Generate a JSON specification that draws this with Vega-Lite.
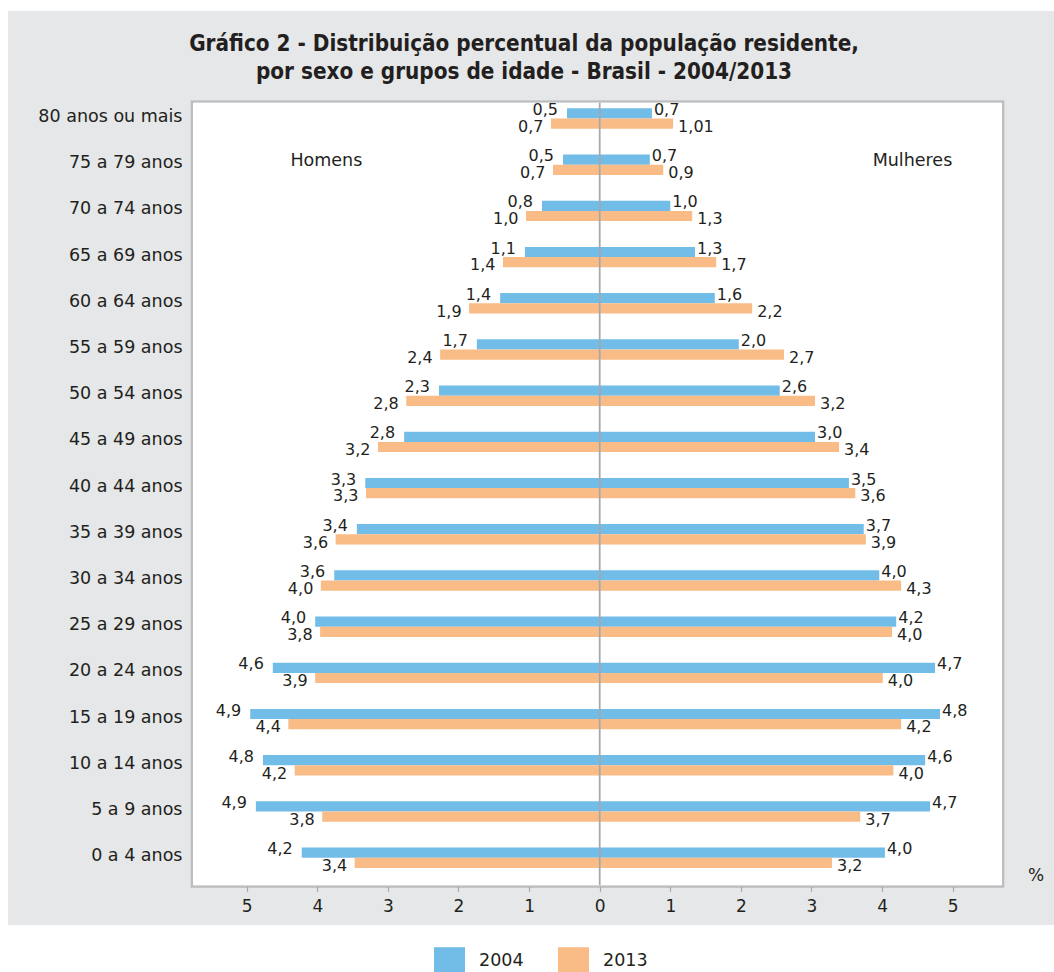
{
  "$schema": "https://vega.github.io/schema/vega-lite/v6.json",
  "width": 1046,
  "height": 914,
  "autosize": {"type": "pad"},
  "padding": {"left": 8, "top": 11, "right": 0, "bottom": 0},
  "background": "white",
  "view": {"fill": "#e6e7e8", "stroke": null},
  "title": {
    "text": ["Gráfico 2 - Distribuição percentual da população residente,", "por sexo e grupos de idade - Brasil - 2004/2013"],
    "font": "Liberation Sans Narrow, DejaVu Sans Condensed, Liberation Sans, sans-serif",
    "fontWeight": "bold",
    "fontSize": 22.3,
    "color": "#231f20",
    "anchor": "middle",
    "frame": "group",
    "offset": -72,
    "lineHeight": 28,
    "dx": -7
  },
  "datasets": {
    "pop": [
      {"idade": "80 anos ou mais", "sexo": "Homens", "ano": "2004", "valor": 0.463, "rotulo": "0,5"},
      {"idade": "80 anos ou mais", "sexo": "Homens", "ano": "2013", "valor": 0.69, "rotulo": "0,7"},
      {"idade": "80 anos ou mais", "sexo": "Mulheres", "ano": "2004", "valor": 0.74, "rotulo": "0,7"},
      {"idade": "80 anos ou mais", "sexo": "Mulheres", "ano": "2013", "valor": 1.04, "rotulo": "1,01"},
      {"idade": "75 a 79 anos", "sexo": "Homens", "ano": "2004", "valor": 0.52, "rotulo": "0,5"},
      {"idade": "75 a 79 anos", "sexo": "Homens", "ano": "2013", "valor": 0.661, "rotulo": "0,7"},
      {"idade": "75 a 79 anos", "sexo": "Mulheres", "ano": "2004", "valor": 0.71, "rotulo": "0,7"},
      {"idade": "75 a 79 anos", "sexo": "Mulheres", "ano": "2013", "valor": 0.9, "rotulo": "0,9"},
      {"idade": "70 a 74 anos", "sexo": "Homens", "ano": "2004", "valor": 0.817, "rotulo": "0,8"},
      {"idade": "70 a 74 anos", "sexo": "Homens", "ano": "2013", "valor": 1.044, "rotulo": "1,0"},
      {"idade": "70 a 74 anos", "sexo": "Mulheres", "ano": "2004", "valor": 1.0, "rotulo": "1,0"},
      {"idade": "70 a 74 anos", "sexo": "Mulheres", "ano": "2013", "valor": 1.31, "rotulo": "1,3"},
      {"idade": "65 a 69 anos", "sexo": "Homens", "ano": "2004", "valor": 1.058, "rotulo": "1,1"},
      {"idade": "65 a 69 anos", "sexo": "Homens", "ano": "2013", "valor": 1.37, "rotulo": "1,4"},
      {"idade": "65 a 69 anos", "sexo": "Mulheres", "ano": "2004", "valor": 1.35, "rotulo": "1,3"},
      {"idade": "65 a 69 anos", "sexo": "Mulheres", "ano": "2013", "valor": 1.65, "rotulo": "1,7"},
      {"idade": "60 a 64 anos", "sexo": "Homens", "ano": "2004", "valor": 1.41, "rotulo": "1,4"},
      {"idade": "60 a 64 anos", "sexo": "Homens", "ano": "2013", "valor": 1.85, "rotulo": "1,9"},
      {"idade": "60 a 64 anos", "sexo": "Mulheres", "ano": "2004", "valor": 1.63, "rotulo": "1,6"},
      {"idade": "60 a 64 anos", "sexo": "Mulheres", "ano": "2013", "valor": 2.16, "rotulo": "2,2"},
      {"idade": "55 a 59 anos", "sexo": "Homens", "ano": "2004", "valor": 1.74, "rotulo": "1,7"},
      {"idade": "55 a 59 anos", "sexo": "Homens", "ano": "2013", "valor": 2.26, "rotulo": "2,4"},
      {"idade": "55 a 59 anos", "sexo": "Mulheres", "ano": "2004", "valor": 1.97, "rotulo": "2,0"},
      {"idade": "55 a 59 anos", "sexo": "Mulheres", "ano": "2013", "valor": 2.61, "rotulo": "2,7"},
      {"idade": "50 a 54 anos", "sexo": "Homens", "ano": "2004", "valor": 2.276, "rotulo": "2,3"},
      {"idade": "50 a 54 anos", "sexo": "Homens", "ano": "2013", "valor": 2.74, "rotulo": "2,8"},
      {"idade": "50 a 54 anos", "sexo": "Mulheres", "ano": "2004", "valor": 2.55, "rotulo": "2,6"},
      {"idade": "50 a 54 anos", "sexo": "Mulheres", "ano": "2013", "valor": 3.05, "rotulo": "3,2"},
      {"idade": "45 a 49 anos", "sexo": "Homens", "ano": "2004", "valor": 2.77, "rotulo": "2,8"},
      {"idade": "45 a 49 anos", "sexo": "Homens", "ano": "2013", "valor": 3.14, "rotulo": "3,2"},
      {"idade": "45 a 49 anos", "sexo": "Mulheres", "ano": "2004", "valor": 3.05, "rotulo": "3,0"},
      {"idade": "45 a 49 anos", "sexo": "Mulheres", "ano": "2013", "valor": 3.39, "rotulo": "3,4"},
      {"idade": "40 a 44 anos", "sexo": "Homens", "ano": "2004", "valor": 3.32, "rotulo": "3,3"},
      {"idade": "40 a 44 anos", "sexo": "Homens", "ano": "2013", "valor": 3.31, "rotulo": "3,3"},
      {"idade": "40 a 44 anos", "sexo": "Mulheres", "ano": "2004", "valor": 3.53, "rotulo": "3,5"},
      {"idade": "40 a 44 anos", "sexo": "Mulheres", "ano": "2013", "valor": 3.62, "rotulo": "3,6"},
      {"idade": "35 a 39 anos", "sexo": "Homens", "ano": "2004", "valor": 3.44, "rotulo": "3,4"},
      {"idade": "35 a 39 anos", "sexo": "Homens", "ano": "2013", "valor": 3.74, "rotulo": "3,6"},
      {"idade": "35 a 39 anos", "sexo": "Mulheres", "ano": "2004", "valor": 3.74, "rotulo": "3,7"},
      {"idade": "35 a 39 anos", "sexo": "Mulheres", "ano": "2013", "valor": 3.77, "rotulo": "3,9"},
      {"idade": "30 a 34 anos", "sexo": "Homens", "ano": "2004", "valor": 3.76, "rotulo": "3,6"},
      {"idade": "30 a 34 anos", "sexo": "Homens", "ano": "2013", "valor": 3.95, "rotulo": "4,0"},
      {"idade": "30 a 34 anos", "sexo": "Mulheres", "ano": "2004", "valor": 3.96, "rotulo": "4,0"},
      {"idade": "30 a 34 anos", "sexo": "Mulheres", "ano": "2013", "valor": 4.27, "rotulo": "4,3"},
      {"idade": "25 a 29 anos", "sexo": "Homens", "ano": "2004", "valor": 4.03, "rotulo": "4,0"},
      {"idade": "25 a 29 anos", "sexo": "Homens", "ano": "2013", "valor": 3.96, "rotulo": "3,8"},
      {"idade": "25 a 29 anos", "sexo": "Mulheres", "ano": "2004", "valor": 4.2, "rotulo": "4,2"},
      {"idade": "25 a 29 anos", "sexo": "Mulheres", "ano": "2013", "valor": 4.14, "rotulo": "4,0"},
      {"idade": "20 a 24 anos", "sexo": "Homens", "ano": "2004", "valor": 4.63, "rotulo": "4,6"},
      {"idade": "20 a 24 anos", "sexo": "Homens", "ano": "2013", "valor": 4.03, "rotulo": "3,9"},
      {"idade": "20 a 24 anos", "sexo": "Mulheres", "ano": "2004", "valor": 4.75, "rotulo": "4,7"},
      {"idade": "20 a 24 anos", "sexo": "Mulheres", "ano": "2013", "valor": 4.01, "rotulo": "4,0"},
      {"idade": "15 a 19 anos", "sexo": "Homens", "ano": "2004", "valor": 4.95, "rotulo": "4,9"},
      {"idade": "15 a 19 anos", "sexo": "Homens", "ano": "2013", "valor": 4.41, "rotulo": "4,4"},
      {"idade": "15 a 19 anos", "sexo": "Mulheres", "ano": "2004", "valor": 4.82, "rotulo": "4,8"},
      {"idade": "15 a 19 anos", "sexo": "Mulheres", "ano": "2013", "valor": 4.27, "rotulo": "4,2"},
      {"idade": "10 a 14 anos", "sexo": "Homens", "ano": "2004", "valor": 4.77, "rotulo": "4,8"},
      {"idade": "10 a 14 anos", "sexo": "Homens", "ano": "2013", "valor": 4.32, "rotulo": "4,2"},
      {"idade": "10 a 14 anos", "sexo": "Mulheres", "ano": "2004", "valor": 4.61, "rotulo": "4,6"},
      {"idade": "10 a 14 anos", "sexo": "Mulheres", "ano": "2013", "valor": 4.16, "rotulo": "4,0"},
      {"idade": "5 a 9 anos", "sexo": "Homens", "ano": "2004", "valor": 4.87, "rotulo": "4,9"},
      {"idade": "5 a 9 anos", "sexo": "Homens", "ano": "2013", "valor": 3.93, "rotulo": "3,8"},
      {"idade": "5 a 9 anos", "sexo": "Mulheres", "ano": "2004", "valor": 4.68, "rotulo": "4,7"},
      {"idade": "5 a 9 anos", "sexo": "Mulheres", "ano": "2013", "valor": 3.69, "rotulo": "3,7"},
      {"idade": "0 a 4 anos", "sexo": "Homens", "ano": "2004", "valor": 4.22, "rotulo": "4,2"},
      {"idade": "0 a 4 anos", "sexo": "Homens", "ano": "2013", "valor": 3.47, "rotulo": "3,4"},
      {"idade": "0 a 4 anos", "sexo": "Mulheres", "ano": "2004", "valor": 4.04, "rotulo": "4,0"},
      {"idade": "0 a 4 anos", "sexo": "Mulheres", "ano": "2013", "valor": 3.29, "rotulo": "3,2"}
    ]
  },
  "data": {"name": "pop"},
  "transform": [
    {"calculate": "datum.sexo === 'Homens' ? -datum.valor : datum.valor", "as": "x"}
  ],
  "layer": [
    {
      "transform": [{"filter": "datum.sexo === 'Homens' && datum.ano === '2004'"}],
      "mark": {"type": "bar", "color": "#bcbec0", "stroke": "#bcbec0", "strokeWidth": 0.6},
      "encoding": {
        "x": {"datum": -5.789, "type": "quantitative", "scale": {"domain": [-8.381, 6.435], "nice": false, "zero": false},
          "axis": {"orient": "bottom", "offset": -38.6, "zindex": 1, "values": [-5, -4, -3, -2, -1, 0, 1, 2, 3, 4, 5], "labelExpr": "'' + abs(datum.value)", "domain": false, "grid": false, "ticks": true, "tickColor": "#a7a9ac", "tickSize": 5, "tickWidth": 1.2, "labelFont": "DejaVu Sans", "labelFontSize": 17, "labelColor": "#231f20", "labelPadding": 7, "labelFlush": false, "labelOverlap": false, "title": null}},
        "x2": {"datum": 5.727},
        "y": {"field": "idade", "type": "nominal", "axis": null,
          "scale": {"domain": ["80 anos ou mais", "75 a 79 anos", "70 a 74 anos", "65 a 69 anos", "60 a 64 anos", "55 a 59 anos", "50 a 54 anos", "45 a 49 anos", "40 a 44 anos", "35 a 39 anos", "30 a 34 anos", "25 a 29 anos", "20 a 24 anos", "15 a 19 anos", "10 a 14 anos", "5 a 9 anos", "0 a 4 anos"], "range": [89.7, 876.5], "paddingInner": 0, "paddingOuter": 0, "round": false}}
      }
    },
    {
      "transform": [{"filter": "datum.sexo === 'Homens' && datum.ano === '2004'"}],
      "mark": {"type": "bar", "color": "#ffffff", "stroke": "#ffffff", "strokeWidth": 1},
      "encoding": {
        "x": {"datum": -5.7535, "type": "quantitative", "scale": {"domain": [-8.381, 6.435], "nice": false, "zero": false},
          "axis": {"orient": "bottom", "offset": -38.6, "zindex": 1, "values": [-5, -4, -3, -2, -1, 0, 1, 2, 3, 4, 5], "labelExpr": "'' + abs(datum.value)", "domain": false, "grid": false, "ticks": true, "tickColor": "#a7a9ac", "tickSize": 5, "tickWidth": 1.2, "labelFont": "DejaVu Sans", "labelFontSize": 17, "labelColor": "#231f20", "labelPadding": 7, "labelFlush": false, "labelOverlap": false, "title": null}},
        "x2": {"datum": 5.6912},
        "y": {"field": "idade", "type": "nominal", "axis": null,
          "scale": {"domain": ["80 anos ou mais", "75 a 79 anos", "70 a 74 anos", "65 a 69 anos", "60 a 64 anos", "55 a 59 anos", "50 a 54 anos", "45 a 49 anos", "40 a 44 anos", "35 a 39 anos", "30 a 34 anos", "25 a 29 anos", "20 a 24 anos", "15 a 19 anos", "10 a 14 anos", "5 a 9 anos", "0 a 4 anos"], "range": [92.1, 873.9], "paddingInner": 0, "paddingOuter": 0, "round": false}}
      }
    },
    {
      "mark": {"type": "bar"},
      "encoding": {
        "x": {"field": "x", "type": "quantitative", "scale": {"domain": [-8.381, 6.435], "nice": false, "zero": false},
          "axis": {"orient": "bottom", "offset": -38.6, "zindex": 1, "values": [-5, -4, -3, -2, -1, 0, 1, 2, 3, 4, 5], "labelExpr": "'' + abs(datum.value)", "domain": false, "grid": false, "ticks": true, "tickColor": "#a7a9ac", "tickSize": 5, "tickWidth": 1.2, "labelFont": "DejaVu Sans", "labelFontSize": 17, "labelColor": "#231f20", "labelPadding": 7, "labelFlush": false, "labelOverlap": false, "title": null}},
        "x2": {"datum": 0},
        "y": {"field": "idade", "type": "nominal",
          "scale": {"domain": ["80 anos ou mais", "75 a 79 anos", "70 a 74 anos", "65 a 69 anos", "60 a 64 anos", "55 a 59 anos", "50 a 54 anos", "45 a 49 anos", "40 a 44 anos", "35 a 39 anos", "30 a 34 anos", "25 a 29 anos", "20 a 24 anos", "15 a 19 anos", "10 a 14 anos", "5 a 9 anos", "0 a 4 anos"], "range": [84.4, 869.8], "paddingInner": 0.5584, "paddingOuter": 0.2792, "round": false},
          "axis": {"orient": "left", "offset": -184, "zindex": 1, "domain": false, "ticks": false, "grid": false, "labelPadding": 10, "labelFont": "DejaVu Sans", "labelFontSize": 17.5, "labelColor": "#231f20", "labelOffset": -1.5, "title": null}},
        "yOffset": {"field": "ano", "type": "nominal", "scale": {"domain": ["2004", "2013"], "paddingInner": 0, "paddingOuter": 0}},
        "color": {"field": "ano", "type": "nominal", "scale": {"domain": ["2004", "2013"], "range": ["#72bce8", "#f9bc87"]},
          "legend": {"orient": "none", "legendX": 426, "legendY": 933.7, "direction": "horizontal", "title": null, "symbolType": "M-1,-0.871H1V0.871H-1Z", "symbolSize": 961, "symbolStrokeWidth": 0, "symbolOpacity": 1, "labelFont": "DejaVu Sans", "labelFontSize": 17.5, "labelColor": "#231f20", "labelOffset": 14, "columnPadding": 34, "padding": 0}}
      }
    },
    {
      "transform": [{"filter": "datum.sexo === 'Homens' && datum.ano === '2004'"}],
      "mark": {"type": "text", "align": "right", "baseline": "middle", "dx": -9, "dy": -8.5, "font": "DejaVu Sans", "fontSize": 16, "color": "#231f20"},
      "encoding": {
        "x": {"field": "x", "type": "quantitative", "scale": {"domain": [-8.381, 6.435], "nice": false, "zero": false},
          "axis": {"orient": "bottom", "offset": -38.6, "zindex": 1, "values": [-5, -4, -3, -2, -1, 0, 1, 2, 3, 4, 5], "labelExpr": "'' + abs(datum.value)", "domain": false, "grid": false, "ticks": true, "tickColor": "#a7a9ac", "tickSize": 5, "tickWidth": 1.2, "labelFont": "DejaVu Sans", "labelFontSize": 17, "labelColor": "#231f20", "labelPadding": 7, "labelFlush": false, "labelOverlap": false, "title": null}},
        "y": {"field": "idade", "type": "nominal", "axis": null,
          "scale": {"domain": ["80 anos ou mais", "75 a 79 anos", "70 a 74 anos", "65 a 69 anos", "60 a 64 anos", "55 a 59 anos", "50 a 54 anos", "45 a 49 anos", "40 a 44 anos", "35 a 39 anos", "30 a 34 anos", "25 a 29 anos", "20 a 24 anos", "15 a 19 anos", "10 a 14 anos", "5 a 9 anos", "0 a 4 anos"], "range": [84.4, 869.8], "paddingInner": 0.5584, "paddingOuter": 0.2792, "round": false}},
        "text": {"field": "rotulo"}
      }
    },
    {
      "transform": [{"filter": "datum.sexo === 'Homens' && datum.ano === '2013'"}],
      "mark": {"type": "text", "align": "right", "baseline": "middle", "dx": -7.5, "dy": 8.2, "font": "DejaVu Sans", "fontSize": 16, "color": "#231f20"},
      "encoding": {
        "x": {"field": "x", "type": "quantitative", "scale": {"domain": [-8.381, 6.435], "nice": false, "zero": false},
          "axis": {"orient": "bottom", "offset": -38.6, "zindex": 1, "values": [-5, -4, -3, -2, -1, 0, 1, 2, 3, 4, 5], "labelExpr": "'' + abs(datum.value)", "domain": false, "grid": false, "ticks": true, "tickColor": "#a7a9ac", "tickSize": 5, "tickWidth": 1.2, "labelFont": "DejaVu Sans", "labelFontSize": 17, "labelColor": "#231f20", "labelPadding": 7, "labelFlush": false, "labelOverlap": false, "title": null}},
        "y": {"field": "idade", "type": "nominal", "axis": null,
          "scale": {"domain": ["80 anos ou mais", "75 a 79 anos", "70 a 74 anos", "65 a 69 anos", "60 a 64 anos", "55 a 59 anos", "50 a 54 anos", "45 a 49 anos", "40 a 44 anos", "35 a 39 anos", "30 a 34 anos", "25 a 29 anos", "20 a 24 anos", "15 a 19 anos", "10 a 14 anos", "5 a 9 anos", "0 a 4 anos"], "range": [84.4, 869.8], "paddingInner": 0.5584, "paddingOuter": 0.2792, "round": false}},
        "text": {"field": "rotulo"}
      }
    },
    {
      "transform": [{"filter": "datum.sexo === 'Mulheres' && datum.ano === '2004'"}],
      "mark": {"type": "text", "align": "left", "baseline": "middle", "dx": 2, "dy": -8.5, "font": "DejaVu Sans", "fontSize": 16, "color": "#231f20"},
      "encoding": {
        "x": {"field": "x", "type": "quantitative", "scale": {"domain": [-8.381, 6.435], "nice": false, "zero": false},
          "axis": {"orient": "bottom", "offset": -38.6, "zindex": 1, "values": [-5, -4, -3, -2, -1, 0, 1, 2, 3, 4, 5], "labelExpr": "'' + abs(datum.value)", "domain": false, "grid": false, "ticks": true, "tickColor": "#a7a9ac", "tickSize": 5, "tickWidth": 1.2, "labelFont": "DejaVu Sans", "labelFontSize": 17, "labelColor": "#231f20", "labelPadding": 7, "labelFlush": false, "labelOverlap": false, "title": null}},
        "y": {"field": "idade", "type": "nominal", "axis": null,
          "scale": {"domain": ["80 anos ou mais", "75 a 79 anos", "70 a 74 anos", "65 a 69 anos", "60 a 64 anos", "55 a 59 anos", "50 a 54 anos", "45 a 49 anos", "40 a 44 anos", "35 a 39 anos", "30 a 34 anos", "25 a 29 anos", "20 a 24 anos", "15 a 19 anos", "10 a 14 anos", "5 a 9 anos", "0 a 4 anos"], "range": [84.4, 869.8], "paddingInner": 0.5584, "paddingOuter": 0.2792, "round": false}},
        "text": {"field": "rotulo"}
      }
    },
    {
      "transform": [{"filter": "datum.sexo === 'Mulheres' && datum.ano === '2013'"}],
      "mark": {"type": "text", "align": "left", "baseline": "middle", "dx": 5, "dy": 8.2, "font": "DejaVu Sans", "fontSize": 16, "color": "#231f20"},
      "encoding": {
        "x": {"field": "x", "type": "quantitative", "scale": {"domain": [-8.381, 6.435], "nice": false, "zero": false},
          "axis": {"orient": "bottom", "offset": -38.6, "zindex": 1, "values": [-5, -4, -3, -2, -1, 0, 1, 2, 3, 4, 5], "labelExpr": "'' + abs(datum.value)", "domain": false, "grid": false, "ticks": true, "tickColor": "#a7a9ac", "tickSize": 5, "tickWidth": 1.2, "labelFont": "DejaVu Sans", "labelFontSize": 17, "labelColor": "#231f20", "labelPadding": 7, "labelFlush": false, "labelOverlap": false, "title": null}},
        "y": {"field": "idade", "type": "nominal", "axis": null,
          "scale": {"domain": ["80 anos ou mais", "75 a 79 anos", "70 a 74 anos", "65 a 69 anos", "60 a 64 anos", "55 a 59 anos", "50 a 54 anos", "45 a 49 anos", "40 a 44 anos", "35 a 39 anos", "30 a 34 anos", "25 a 29 anos", "20 a 24 anos", "15 a 19 anos", "10 a 14 anos", "5 a 9 anos", "0 a 4 anos"], "range": [84.4, 869.8], "paddingInner": 0.5584, "paddingOuter": 0.2792, "round": false}},
        "text": {"field": "rotulo"}
      }
    },
    {
      "data": {"values": [{"rotulo": "Homens", "lado": -3.872}, {"rotulo": "Mulheres", "lado": 4.43}]},
      "mark": {"type": "text", "align": "center", "baseline": "middle", "dy": -3.7, "font": "DejaVu Sans", "fontSize": 17.5, "color": "#231f20"},
      "encoding": {
        "x": {"field": "lado", "type": "quantitative", "scale": {"domain": [-8.381, 6.435], "nice": false, "zero": false},
          "axis": {"orient": "bottom", "offset": -38.6, "zindex": 1, "values": [-5, -4, -3, -2, -1, 0, 1, 2, 3, 4, 5], "labelExpr": "'' + abs(datum.value)", "domain": false, "grid": false, "ticks": true, "tickColor": "#a7a9ac", "tickSize": 5, "tickWidth": 1.2, "labelFont": "DejaVu Sans", "labelFontSize": 17, "labelColor": "#231f20", "labelPadding": 7, "labelFlush": false, "labelOverlap": false, "title": null}},
        "y": {"datum": "75 a 79 anos", "type": "nominal", "axis": null,
          "scale": {"domain": ["80 anos ou mais", "75 a 79 anos", "70 a 74 anos", "65 a 69 anos", "60 a 64 anos", "55 a 59 anos", "50 a 54 anos", "45 a 49 anos", "40 a 44 anos", "35 a 39 anos", "30 a 34 anos", "25 a 29 anos", "20 a 24 anos", "15 a 19 anos", "10 a 14 anos", "5 a 9 anos", "0 a 4 anos"], "range": [84.4, 869.8], "paddingInner": 0.5584, "paddingOuter": 0.2792, "round": false}},
        "text": {"field": "rotulo"}
      }
    },
    {
      "data": {"values": [{"rotulo": "%", "lado": 6.18}]},
      "mark": {"type": "text", "align": "center", "baseline": "middle", "dy": 18.5, "font": "DejaVu Sans", "fontSize": 17, "color": "#231f20"},
      "encoding": {
        "x": {"field": "lado", "type": "quantitative", "scale": {"domain": [-8.381, 6.435], "nice": false, "zero": false},
          "axis": {"orient": "bottom", "offset": -38.6, "zindex": 1, "values": [-5, -4, -3, -2, -1, 0, 1, 2, 3, 4, 5], "labelExpr": "'' + abs(datum.value)", "domain": false, "grid": false, "ticks": true, "tickColor": "#a7a9ac", "tickSize": 5, "tickWidth": 1.2, "labelFont": "DejaVu Sans", "labelFontSize": 17, "labelColor": "#231f20", "labelPadding": 7, "labelFlush": false, "labelOverlap": false, "title": null}},
        "y": {"datum": "0 a 4 anos", "type": "nominal", "axis": null,
          "scale": {"domain": ["80 anos ou mais", "75 a 79 anos", "70 a 74 anos", "65 a 69 anos", "60 a 64 anos", "55 a 59 anos", "50 a 54 anos", "45 a 49 anos", "40 a 44 anos", "35 a 39 anos", "30 a 34 anos", "25 a 29 anos", "20 a 24 anos", "15 a 19 anos", "10 a 14 anos", "5 a 9 anos", "0 a 4 anos"], "range": [84.4, 869.8], "paddingInner": 0.5584, "paddingOuter": 0.2792, "round": false}},
        "text": {"field": "rotulo"}
      }
    },
    {
      "transform": [{"filter": "datum.sexo === 'Homens' && datum.ano === '2004'"}],
      "mark": {"type": "bar", "color": "#a7a9ac", "stroke": "#a7a9ac", "strokeWidth": 0.4},
      "encoding": {
        "x": {"datum": -0.0095, "type": "quantitative", "scale": {"domain": [-8.381, 6.435], "nice": false, "zero": false},
          "axis": {"orient": "bottom", "offset": -38.6, "zindex": 1, "values": [-5, -4, -3, -2, -1, 0, 1, 2, 3, 4, 5], "labelExpr": "'' + abs(datum.value)", "domain": false, "grid": false, "ticks": true, "tickColor": "#a7a9ac", "tickSize": 5, "tickWidth": 1.2, "labelFont": "DejaVu Sans", "labelFontSize": 17, "labelColor": "#231f20", "labelPadding": 7, "labelFlush": false, "labelOverlap": false, "title": null}},
        "x2": {"datum": 0.0095},
        "y": {"field": "idade", "type": "nominal", "axis": null,
          "scale": {"domain": ["80 anos ou mais", "75 a 79 anos", "70 a 74 anos", "65 a 69 anos", "60 a 64 anos", "55 a 59 anos", "50 a 54 anos", "45 a 49 anos", "40 a 44 anos", "35 a 39 anos", "30 a 34 anos", "25 a 29 anos", "20 a 24 anos", "15 a 19 anos", "10 a 14 anos", "5 a 9 anos", "0 a 4 anos"], "range": [92.1, 873.9], "paddingInner": 0, "paddingOuter": 0, "round": false}}
      }
    }
  ],
  "resolve": {"scale": {"y": "independent"}}
}
